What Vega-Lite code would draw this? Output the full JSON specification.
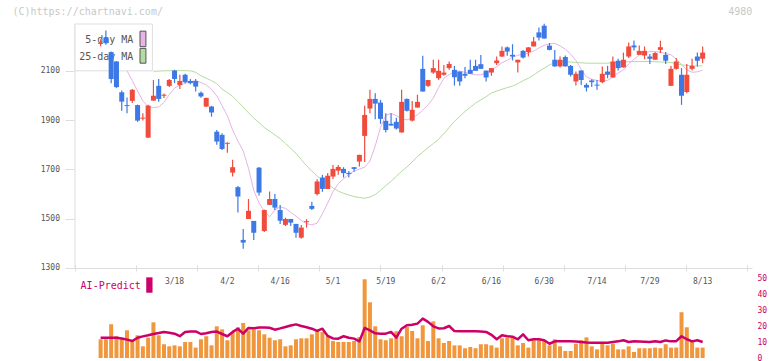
{
  "$schema": "https://vega.github.io/schema/vega-lite/v6.json",
  "autosize": {"type": "none"},
  "padding": {"left": 70, "top": 24, "right": 20, "bottom": 3},
  "background": "white",
  "width": 682,
  "height": 334,
  "config": {
    "view": {"stroke": null},
    "axis": {"labelFont": "DejaVu Sans Mono", "labelFontSize": 8, "labelColor": "#555555", "grid": false, "title": null}
  },
  "resolve": {
    "scale": {"x": "independent", "y": "independent"},
    "axis": {"x": "independent", "y": "independent"}
  },
  "datasets": {
    "px": [
      {"i":0,"d":"2/26","o":2209,"h":2228,"l":2200,"c":2213,"v":11.7,"a":12.7},
      {"i":1,"d":"2/27","o":2235,"h":2264,"l":2206,"c":2212,"v":11.7,"a":12.7},
      {"i":2,"d":"2/28","o":2176,"h":2178,"l":2050,"c":2067,"v":21.1,"a":12.7},
      {"i":3,"d":"3/3","o":2138,"h":2140,"l":2030,"c":2034,"v":13.6,"a":12.6},
      {"i":4,"d":"3/4","o":2013,"h":2020,"l":1938,"c":1975,"v":12.7,"a":12.2},
      {"i":5,"d":"3/5","o":1961,"h":1992,"l":1928,"c":1957,"v":17.3,"a":11.5},
      {"i":6,"d":"3/6","o":1978,"h":2026,"l":1969,"c":2023,"v":10.6,"a":10.6},
      {"i":7,"d":"3/7","o":1961,"h":1963,"l":1893,"c":1898,"v":14.2,"a":12.7},
      {"i":8,"d":"3/10","o":1906,"h":1928,"l":1898,"c":1910,"v":7.3,"a":13.5},
      {"i":9,"d":"3/11","o":1829,"h":1962,"l":1827,"c":1959,"v":12.7,"a":14.2},
      {"i":10,"d":"3/12","o":1979,"h":2063,"l":1979,"c":1999,"v":22.3,"a":15},
      {"i":11,"d":"3/13","o":2039,"h":2067,"l":1975,"c":1986,"v":14.2,"a":15.6},
      {"i":12,"d":"3/14","o":1999,"h":2008,"l":1990,"c":2003,"v":8.6,"a":16.3},
      {"i":13,"d":"3/17","o":2039,"h":2067,"l":2034,"c":2063,"v":7.3,"a":15.8},
      {"i":14,"d":"3/18","o":2101,"h":2104,"l":2050,"c":2067,"v":7.9,"a":15.2},
      {"i":15,"d":"3/19","o":2042,"h":2084,"l":2026,"c":2059,"v":7.3,"a":13.6},
      {"i":16,"d":"3/21","o":2084,"h":2088,"l":2050,"c":2054,"v":10,"a":16.2},
      {"i":17,"d":"3/24","o":2059,"h":2067,"l":2046,"c":2050,"v":10,"a":16.5},
      {"i":18,"d":"3/25","o":2059,"h":2067,"l":2016,"c":2036,"v":6.5,"a":16.6},
      {"i":19,"d":"3/26","o":2011,"h":2016,"l":1991,"c":1996,"v":11.7,"a":15},
      {"i":20,"d":"3/27","o":1955,"h":1992,"l":1953,"c":1990,"v":13.6,"a":15.5},
      {"i":21,"d":"3/28","o":1955,"h":1958,"l":1914,"c":1931,"v":7.9,"a":16.3},
      {"i":22,"d":"3/31","o":1853,"h":1860,"l":1800,"c":1813,"v":19.8,"a":16.5},
      {"i":23,"d":"4/1","o":1840,"h":1847,"l":1779,"c":1783,"v":17.9,"a":15},
      {"i":24,"d":"4/2","o":1804,"h":1810,"l":1768,"c":1808,"v":11.1,"a":13.6},
      {"i":25,"d":"4/3","o":1687,"h":1739,"l":1671,"c":1709,"v":16.3,"a":16.3},
      {"i":26,"d":"4/4","o":1628,"h":1633,"l":1525,"c":1590,"v":19.2,"a":18.3},
      {"i":27,"d":"4/7","o":1414,"h":1458,"l":1378,"c":1403,"v":21.9,"a":15.2},
      {"i":28,"d":"4/8","o":1499,"h":1580,"l":1499,"c":1532,"v":17.3,"a":18.8},
      {"i":29,"d":"4/9","o":1491,"h":1491,"l":1414,"c":1443,"v":17.9,"a":18.6},
      {"i":30,"d":"4/10","o":1707,"h":1710,"l":1594,"c":1606,"v":17.3,"a":19},
      {"i":31,"d":"4/11","o":1450,"h":1537,"l":1446,"c":1535,"v":14.8,"a":19.1},
      {"i":32,"d":"4/14","o":1556,"h":1610,"l":1556,"c":1580,"v":12.7,"a":18.9},
      {"i":33,"d":"4/15","o":1580,"h":1600,"l":1535,"c":1545,"v":11.1,"a":17.7},
      {"i":34,"d":"4/16","o":1535,"h":1556,"l":1479,"c":1492,"v":11.7,"a":18.5},
      {"i":35,"d":"4/17","o":1475,"h":1504,"l":1470,"c":1499,"v":7.3,"a":19.4},
      {"i":36,"d":"4/18","o":1499,"h":1499,"l":1470,"c":1484,"v":7.9,"a":20.3},
      {"i":37,"d":"4/21","o":1479,"h":1479,"l":1423,"c":1443,"v":11.7,"a":21},
      {"i":38,"d":"4/22","o":1423,"h":1474,"l":1419,"c":1464,"v":12.3,"a":20},
      {"i":39,"d":"4/23","o":1486,"h":1498,"l":1464,"c":1490,"v":12.3,"a":19.2},
      {"i":40,"d":"4/24","o":1552,"h":1569,"l":1535,"c":1540,"v":14.8,"a":18.3},
      {"i":41,"d":"4/25","o":1600,"h":1660,"l":1594,"c":1651,"v":16.9,"a":16.9},
      {"i":42,"d":"4/28","o":1667,"h":1678,"l":1609,"c":1621,"v":16.3,"a":18.3},
      {"i":43,"d":"4/30","o":1621,"h":1685,"l":1621,"c":1674,"v":13.6,"a":13.8},
      {"i":44,"d":"5/1","o":1671,"h":1718,"l":1661,"c":1702,"v":10.6,"a":12.2},
      {"i":45,"d":"5/2","o":1695,"h":1718,"l":1678,"c":1710,"v":10,"a":12.1},
      {"i":46,"d":"5/7","o":1702,"h":1709,"l":1667,"c":1685,"v":10,"a":13.6},
      {"i":47,"d":"5/8","o":1686,"h":1694,"l":1667,"c":1681,"v":10,"a":12.7},
      {"i":48,"d":"5/9","o":1709,"h":1709,"l":1690,"c":1702,"v":10.6,"a":12.1},
      {"i":49,"d":"5/12","o":1732,"h":1759,"l":1712,"c":1759,"v":13.1,"a":10.4},
      {"i":50,"d":"5/13","o":1836,"h":1958,"l":1730,"c":1921,"v":49.2,"a":18.8},
      {"i":51,"d":"5/14","o":1947,"h":2023,"l":1928,"c":1986,"v":34.8,"a":17.3},
      {"i":52,"d":"5/15","o":1986,"h":2009,"l":1904,"c":1967,"v":19.8,"a":15.4},
      {"i":53,"d":"5/16","o":1971,"h":1982,"l":1885,"c":1905,"v":11.7,"a":15.2},
      {"i":54,"d":"5/19","o":1897,"h":1928,"l":1850,"c":1860,"v":11.1,"a":15.2},
      {"i":55,"d":"5/20","o":1885,"h":1928,"l":1878,"c":1878,"v":12.3,"a":16.3},
      {"i":56,"d":"5/21","o":1893,"h":1910,"l":1862,"c":1866,"v":16.7,"a":12.7},
      {"i":57,"d":"5/22","o":1850,"h":2023,"l":1849,"c":1974,"v":13.6,"a":18.3},
      {"i":58,"d":"5/23","o":1986,"h":1988,"l":1935,"c":1938,"v":19.4,"a":20.5},
      {"i":59,"d":"5/26","o":1898,"h":1978,"l":1894,"c":1942,"v":16.9,"a":20.8},
      {"i":60,"d":"5/27","o":1951,"h":2003,"l":1951,"c":1974,"v":12.3,"a":21.5},
      {"i":61,"d":"5/28","o":2108,"h":2161,"l":2016,"c":2016,"v":20.4,"a":24.6},
      {"i":62,"d":"5/29","o":2039,"h":2063,"l":2034,"c":2063,"v":10.6,"a":22.6},
      {"i":63,"d":"5/30","o":2093,"h":2145,"l":2088,"c":2111,"v":22.9,"a":19.8},
      {"i":64,"d":"6/2","o":2070,"h":2145,"l":2063,"c":2100,"v":12.3,"a":18.5},
      {"i":65,"d":"6/3","o":2084,"h":2124,"l":2080,"c":2093,"v":9.4,"a":18.6},
      {"i":66,"d":"6/4","o":2111,"h":2138,"l":2104,"c":2128,"v":10.6,"a":20},
      {"i":67,"d":"6/5","o":2104,"h":2120,"l":2040,"c":2074,"v":7.9,"a":16.8},
      {"i":68,"d":"6/6","o":2097,"h":2097,"l":2039,"c":2057,"v":7.9,"a":16.7},
      {"i":69,"d":"6/9","o":2088,"h":2116,"l":2070,"c":2080,"v":6.1,"a":16.7},
      {"i":70,"d":"6/10","o":2104,"h":2145,"l":2088,"c":2088,"v":6.9,"a":16.7},
      {"i":71,"d":"6/11","o":2120,"h":2145,"l":2100,"c":2100,"v":6.1,"a":16.7},
      {"i":72,"d":"6/12","o":2127,"h":2164,"l":2108,"c":2108,"v":8.6,"a":16.5},
      {"i":73,"d":"6/13","o":2101,"h":2101,"l":2057,"c":2073,"v":8.6,"a":16.3},
      {"i":74,"d":"6/16","o":2093,"h":2111,"l":2080,"c":2111,"v":7.9,"a":14.5},
      {"i":75,"d":"6/17","o":2131,"h":2158,"l":2124,"c":2142,"v":6.5,"a":11.7},
      {"i":76,"d":"6/18","o":2158,"h":2199,"l":2156,"c":2181,"v":12.3,"a":14.2},
      {"i":77,"d":"6/19","o":2195,"h":2199,"l":2161,"c":2178,"v":12.7,"a":13.6},
      {"i":78,"d":"6/20","o":2165,"h":2208,"l":2142,"c":2158,"v":12.7,"a":13.3},
      {"i":79,"d":"6/23","o":2134,"h":2145,"l":2093,"c":2145,"v":7.9,"a":11.7},
      {"i":80,"d":"6/24","o":2181,"h":2185,"l":2150,"c":2154,"v":9.4,"a":14.8},
      {"i":81,"d":"6/25","o":2176,"h":2197,"l":2158,"c":2195,"v":6.5,"a":11.1},
      {"i":82,"d":"6/26","o":2199,"h":2237,"l":2199,"c":2219,"v":11.1,"a":11.7},
      {"i":83,"d":"6/27","o":2256,"h":2276,"l":2223,"c":2235,"v":11.1,"a":11.7},
      {"i":84,"d":"6/30","o":2283,"h":2291,"l":2231,"c":2231,"v":11.1,"a":11.1},
      {"i":85,"d":"7/1","o":2202,"h":2213,"l":2183,"c":2185,"v":7.9,"a":8.9},
      {"i":86,"d":"7/2","o":2145,"h":2185,"l":2117,"c":2118,"v":11.7,"a":10.4},
      {"i":87,"d":"7/3","o":2118,"h":2158,"l":2113,"c":2145,"v":7.3,"a":10.4},
      {"i":88,"d":"7/4","o":2156,"h":2162,"l":2118,"c":2118,"v":4.4,"a":10.4},
      {"i":89,"d":"7/7","o":2120,"h":2124,"l":2077,"c":2084,"v":4.4,"a":10.4},
      {"i":90,"d":"7/8","o":2057,"h":2097,"l":2040,"c":2088,"v":8.9,"a":10.3},
      {"i":91,"d":"7/9","o":2101,"h":2101,"l":2043,"c":2063,"v":11.1,"a":10},
      {"i":92,"d":"7/10","o":2043,"h":2050,"l":2016,"c":2032,"v":12.9,"a":9.7},
      {"i":93,"d":"7/11","o":2061,"h":2066,"l":2034,"c":2054,"v":7.3,"a":9.6},
      {"i":94,"d":"7/14","o":2044,"h":2063,"l":2023,"c":2040,"v":5.4,"a":9.6},
      {"i":95,"d":"7/15","o":2054,"h":2118,"l":2050,"c":2088,"v":8.9,"a":9.6},
      {"i":96,"d":"7/16","o":2097,"h":2120,"l":2070,"c":2084,"v":7.9,"a":9.6},
      {"i":97,"d":"7/17","o":2073,"h":2158,"l":2073,"c":2138,"v":8.9,"a":10},
      {"i":98,"d":"7/18","o":2141,"h":2149,"l":2101,"c":2111,"v":5.4,"a":10.4},
      {"i":99,"d":"7/22","o":2114,"h":2174,"l":2113,"c":2145,"v":5.4,"a":11.1},
      {"i":100,"d":"7/23","o":2158,"h":2215,"l":2152,"c":2199,"v":7.3,"a":10},
      {"i":101,"d":"7/24","o":2203,"h":2223,"l":2182,"c":2195,"v":3.8,"a":10.4},
      {"i":102,"d":"7/25","o":2165,"h":2203,"l":2165,"c":2181,"v":6.1,"a":10.3},
      {"i":103,"d":"7/28","o":2162,"h":2199,"l":2147,"c":2181,"v":6.1,"a":10.2},
      {"i":104,"d":"7/29","o":2158,"h":2168,"l":2128,"c":2149,"v":6.1,"a":10},
      {"i":105,"d":"7/30","o":2145,"h":2176,"l":2145,"c":2172,"v":6.5,"a":10.4},
      {"i":106,"d":"7/31","o":2185,"h":2222,"l":2172,"c":2196,"v":6.1,"a":10},
      {"i":107,"d":"8/1","o":2165,"h":2176,"l":2128,"c":2141,"v":8.6,"a":11},
      {"i":108,"d":"8/4","o":2039,"h":2120,"l":2039,"c":2108,"v":6.5,"a":10.4},
      {"i":109,"d":"8/5","o":2108,"h":2152,"l":2104,"c":2138,"v":6.5,"a":10.5},
      {"i":110,"d":"8/6","o":2084,"h":2111,"l":1962,"c":1999,"v":28.6,"a":13.6},
      {"i":111,"d":"8/7","o":2014,"h":2128,"l":2009,"c":2084,"v":19.2,"a":11.7},
      {"i":112,"d":"8/8","o":2108,"h":2149,"l":2101,"c":2120,"v":10,"a":10.4},
      {"i":113,"d":"8/12","o":2158,"h":2174,"l":2118,"c":2141,"v":6.5,"a":11.1},
      {"i":114,"d":"8/13","o":2149,"h":2199,"l":2131,"c":2174,"v":6.5,"a":10}
    ],
    "ma5": [
      {"i":5,"p":2100},{"i":6,"p":2060},{"i":7,"p":2018},{"i":8,"p":1978},{"i":9,"p":1954},
      {"i":10,"p":1951},{"i":11,"p":1953},{"i":12,"p":1972},{"i":13,"p":2003},{"i":14,"p":2030},
      {"i":15,"p":2043},{"i":16,"p":2049},{"i":17,"p":2056},{"i":18,"p":2059},{"i":19,"p":2053},
      {"i":20,"p":2043},{"i":21,"p":2025},{"i":22,"p":1998},{"i":23,"p":1959},{"i":24,"p":1918},
      {"i":25,"p":1860},{"i":26,"p":1815},{"i":27,"p":1775},{"i":28,"p":1705},{"i":29,"p":1615},
      {"i":30,"p":1564},{"i":31,"p":1530},{"i":32,"p":1508},{"i":33,"p":1536},{"i":34,"p":1548},
      {"i":35,"p":1542},{"i":36,"p":1526},{"i":37,"p":1510},{"i":38,"p":1493},{"i":39,"p":1480},
      {"i":40,"p":1475},{"i":41,"p":1482},{"i":42,"p":1520},{"i":43,"p":1563},{"i":44,"p":1610},
      {"i":45,"p":1642},{"i":46,"p":1662},{"i":47,"p":1680},{"i":48,"p":1693},{"i":49,"p":1701},
      {"i":50,"p":1709},{"i":51,"p":1734},{"i":52,"p":1795},{"i":53,"p":1870},{"i":54,"p":1920},
      {"i":55,"p":1927},{"i":56,"p":1918},{"i":57,"p":1905},{"i":58,"p":1901},{"i":59,"p":1908},
      {"i":60,"p":1922},{"i":61,"p":1940},{"i":62,"p":1962},{"i":63,"p":1989},{"i":64,"p":2032},
      {"i":65,"p":2070},{"i":66,"p":2084},{"i":67,"p":2098},{"i":68,"p":2099},{"i":69,"p":2094},
      {"i":70,"p":2088},{"i":71,"p":2084},{"i":72,"p":2084},{"i":73,"p":2091},{"i":74,"p":2102},
      {"i":75,"p":2117},{"i":76,"p":2133},{"i":77,"p":2143},{"i":78,"p":2155},{"i":79,"p":2163},
      {"i":80,"p":2168},{"i":81,"p":2172},{"i":82,"p":2180},{"i":83,"p":2193},{"i":84,"p":2204},
      {"i":85,"p":2209},{"i":86,"p":2212},{"i":87,"p":2201},{"i":88,"p":2188},{"i":89,"p":2168},
      {"i":90,"p":2142},{"i":91,"p":2106},{"i":92,"p":2075},{"i":93,"p":2066},{"i":94,"p":2061},
      {"i":95,"p":2058},{"i":96,"p":2061},{"i":97,"p":2075},{"i":98,"p":2091},{"i":99,"p":2104},
      {"i":100,"p":2128},{"i":101,"p":2147},{"i":102,"p":2165},{"i":103,"p":2173},{"i":104,"p":2178},
      {"i":105,"p":2178},{"i":106,"p":2176},{"i":107,"p":2170},{"i":108,"p":2165},{"i":109,"p":2148},
      {"i":110,"p":2125},{"i":111,"p":2104},{"i":112,"p":2094},{"i":113,"p":2096},{"i":114,"p":2103}
    ],
    "ma25": [
      {"i":10,"p":2098},{"i":12,"p":2100},{"i":15,"p":2101},{"i":17,"p":2100},{"i":18,"p":2094},
      {"i":19,"p":2080},{"i":20,"p":2070},{"i":21,"p":2060},{"i":22,"p":2048},{"i":23,"p":2026},
      {"i":24,"p":2012},{"i":25,"p":1996},{"i":26,"p":1975},{"i":27,"p":1953},{"i":28,"p":1930},
      {"i":29,"p":1908},{"i":30,"p":1890},{"i":31,"p":1870},{"i":32,"p":1855},{"i":33,"p":1840},
      {"i":34,"p":1825},{"i":35,"p":1805},{"i":36,"p":1785},{"i":37,"p":1765},{"i":38,"p":1740},
      {"i":39,"p":1715},{"i":40,"p":1693},{"i":41,"p":1673},{"i":42,"p":1657},{"i":43,"p":1640},
      {"i":44,"p":1625},{"i":45,"p":1612},{"i":46,"p":1603},{"i":47,"p":1596},{"i":48,"p":1590},
      {"i":49,"p":1586},{"i":50,"p":1583},{"i":51,"p":1588},{"i":52,"p":1598},{"i":53,"p":1615},
      {"i":54,"p":1634},{"i":55,"p":1652},{"i":56,"p":1672},{"i":57,"p":1692},{"i":58,"p":1710},
      {"i":59,"p":1730},{"i":60,"p":1753},{"i":61,"p":1770},{"i":62,"p":1788},{"i":63,"p":1805},
      {"i":64,"p":1822},{"i":65,"p":1845},{"i":66,"p":1870},{"i":67,"p":1895},{"i":68,"p":1915},
      {"i":69,"p":1935},{"i":70,"p":1952},{"i":71,"p":1969},{"i":72,"p":1982},{"i":73,"p":1995},
      {"i":74,"p":2010},{"i":75,"p":2018},{"i":76,"p":2025},{"i":77,"p":2032},{"i":78,"p":2038},
      {"i":79,"p":2048},{"i":80,"p":2060},{"i":81,"p":2070},{"i":82,"p":2083},{"i":83,"p":2098},
      {"i":84,"p":2111},{"i":85,"p":2124},{"i":86,"p":2134},{"i":87,"p":2138},{"i":88,"p":2137},
      {"i":90,"p":2134},{"i":92,"p":2131},{"i":96,"p":2131},{"i":100,"p":2137},{"i":104,"p":2138},
      {"i":108,"p":2134},{"i":110,"p":2124},{"i":112,"p":2120},{"i":114,"p":2120}
    ]
  },
  "layer": [
    {
      "layer": [
        {
          "data": {"name": "ma25"},
          "mark": {"type": "line", "strokeWidth": 1, "color": "#b4dca0"},
          "encoding": {
            "x": {"field": "i", "type": "quantitative",
              "scale": {"domain": [-4.85, 122.4], "nice": false, "zero": false},
              "axis": {"orient": "bottom", "offset": -90, "values": [-4.85, 6.7182, 18.2864, 29.8545, 41.4227, 52.9909, 64.5591, 76.1273, 87.6955, 99.2636, 110.8318, 122.4],
                "labels": false, "domainColor": "#dddddd", "tickColor": "#dddddd", "tickSize": 3, "title": null}},
            "y": {"field": "p", "type": "quantitative",
              "scale": {"domain": [934.8, 2290], "nice": false, "zero": false},
              "axis": {"orient": "left", "offset": -4, "values": [1300, 1500, 1700, 1900, 2100], "format": "d", "domain": false, "tickColor": "#dddddd", "tickSize": 9, "labelPadding": 5.5, "title": null}}
          }
        },
        {
          "data": {"name": "ma5"},
          "mark": {"type": "line", "strokeWidth": 1, "color": "#e6b4e6"},
          "encoding": {
            "x": {"field": "i", "type": "quantitative"},
            "y": {"field": "p", "type": "quantitative"}
          }
        },
        {
          "data": {"values": [{}]},
          "mark": {"type": "rule", "color": "#dddddd", "strokeWidth": 1},
          "encoding": {
            "x": {"datum": -4.85, "type": "quantitative"},
            "y": {"datum": 1300, "type": "quantitative"},
            "y2": {"datum": 2290}
          }
        },
        {
          "data": {"values": [{}]},
          "mark": {"type": "rect", "fill": "white", "stroke": "#dddddd", "strokeWidth": 1},
          "encoding": {
            "x": {"datum": -4.85, "type": "quantitative"},
            "x2": {"datum": 9.8},
            "y": {"datum": 2100, "type": "quantitative"},
            "y2": {"datum": 2290}
          }
        },
        {
          "data": {"values": [{}]},
          "mark": {"type": "rect", "fill": "#e6b4e6", "stroke": "#555555", "strokeWidth": 1},
          "encoding": {
            "x": {"datum": 7.46, "type": "quantitative"},
            "x2": {"datum": 8.58},
            "y": {"datum": 2198, "type": "quantitative"},
            "y2": {"datum": 2261}
          }
        },
        {
          "data": {"values": [{}]},
          "mark": {"type": "rect", "fill": "#b4dca0", "stroke": "#555555", "strokeWidth": 1},
          "encoding": {
            "x": {"datum": 7.46, "type": "quantitative"},
            "x2": {"datum": 8.58},
            "y": {"datum": 2131, "type": "quantitative"},
            "y2": {"datum": 2191}
          }
        },
        {
          "data": {"values": [{}]},
          "mark": {"type": "text", "align": "right", "baseline": "middle", "font": "DejaVu Sans Mono", "fontSize": 10, "color": "#555555"},
          "encoding": {
            "x": {"datum": 6.2, "type": "quantitative"},
            "y": {"datum": 2225, "type": "quantitative"},
            "text": {"value": "5-day MA"}
          }
        },
        {
          "data": {"values": [{}]},
          "mark": {"type": "text", "align": "right", "baseline": "middle", "font": "DejaVu Sans Mono", "fontSize": 10, "color": "#555555"},
          "encoding": {
            "x": {"datum": 6.2, "type": "quantitative"},
            "y": {"datum": 2157, "type": "quantitative"},
            "text": {"value": "25-day MA"}
          }
        },
        {
          "data": {"name": "px"},
          "mark": {"type": "rule", "strokeWidth": 1.2},
          "encoding": {
            "x": {"field": "i", "type": "quantitative"},
            "y": {"field": "l", "type": "quantitative"},
            "y2": {"field": "h"},
            "color": {"condition": {"test": "datum.c > datum.o", "value": "#f04b3c"}, "value": "#3c78e6"}
          }
        },
        {
          "data": {"name": "px"},
          "mark": {"type": "bar", "width": 5},
          "encoding": {
            "x": {"field": "i", "type": "quantitative"},
            "y": {"field": "o", "type": "quantitative"},
            "y2": {"field": "c"},
            "color": {"condition": {"test": "datum.c > datum.o", "value": "#f04b3c"}, "value": "#3c78e6"}
          }
        },
        {
          "data": {"values": [{}]},
          "mark": {"type": "text", "align": "left", "baseline": "middle", "font": "DejaVu Sans Mono", "fontSize": 10, "color": "#c8c8c8"},
          "encoding": {
            "x": {"datum": -16.7, "type": "quantitative"},
            "y": {"datum": 2337, "type": "quantitative"},
            "text": {"value": "(C)https://chartnavi.com/"}
          }
        },
        {
          "data": {"values": [{}]},
          "mark": {"type": "text", "align": "right", "baseline": "middle", "font": "DejaVu Sans Mono", "fontSize": 10, "color": "#c8c8c8"},
          "encoding": {
            "x": {"datum": 123.4, "type": "quantitative"},
            "y": {"datum": 2337, "type": "quantitative"},
            "text": {"value": "4980"}
          }
        }
      ]
    },
    {
      "layer": [
        {
          "data": {"name": "px"},
          "mark": {"type": "bar", "width": 4, "color": "#f0963c"},
          "encoding": {
            "x": {"field": "i", "type": "quantitative",
              "scale": {"domain": [-4.85, 122.4], "nice": false, "zero": false},
              "axis": {"orient": "top", "offset": -244, "values": [-4.85, 6.7182, 18.2864, 29.8545, 41.4227, 52.9909, 64.5591, 76.1273, 87.6955, 99.2636, 110.8318, 122.4],
                "labels": false, "domain": false, "tickColor": "#dddddd", "tickSize": 3, "title": null}},
            "y": {"field": "v", "type": "quantitative",
              "scale": {"domain": [0, 208.75], "nice": false},
              "axis": {"orient": "right", "values": [0, 10, 20, 30, 40, 50], "domain": false, "ticks": false, "tickSize": 0, "labelPadding": 5, "labelColor": "#cc0066", "title": null}}
          }
        },
        {
          "data": {"name": "px"},
          "mark": {"type": "line", "strokeWidth": 2.5, "strokeJoin": "round", "color": "#cc0066"},
          "encoding": {
            "x": {"field": "i", "type": "quantitative"},
            "y": {"field": "a", "type": "quantitative"}
          }
        },
        {
          "data": {"values": [{}]},
          "mark": {"type": "rect", "fill": "#cc0066"},
          "encoding": {
            "x": {"datum": 8.64, "type": "quantitative"},
            "x2": {"datum": 9.83},
            "y": {"datum": 40.8, "type": "quantitative"},
            "y2": {"datum": 50.4}
          }
        },
        {
          "data": {"values": [{}]},
          "mark": {"type": "text", "align": "left", "baseline": "middle", "font": "DejaVu Sans Mono", "fontSize": 10, "color": "#cc0066"},
          "encoding": {
            "x": {"datum": -3.79, "type": "quantitative"},
            "y": {"datum": 45.2, "type": "quantitative"},
            "text": {"value": "AI-Predict"}
          }
        },
        {
          "data": {"name": "px"},
          "transform": [{"filter": "datum.i >= 14 && datum.i % 10 == 4"}],
          "mark": {"type": "text", "align": "center", "baseline": "middle", "font": "DejaVu Sans Mono", "fontSize": 8, "color": "#555555"},
          "encoding": {
            "x": {"field": "i", "type": "quantitative"},
            "y": {"datum": 47.3, "type": "quantitative"},
            "text": {"field": "d"}
          }
        }
      ]
    }
  ]
}
